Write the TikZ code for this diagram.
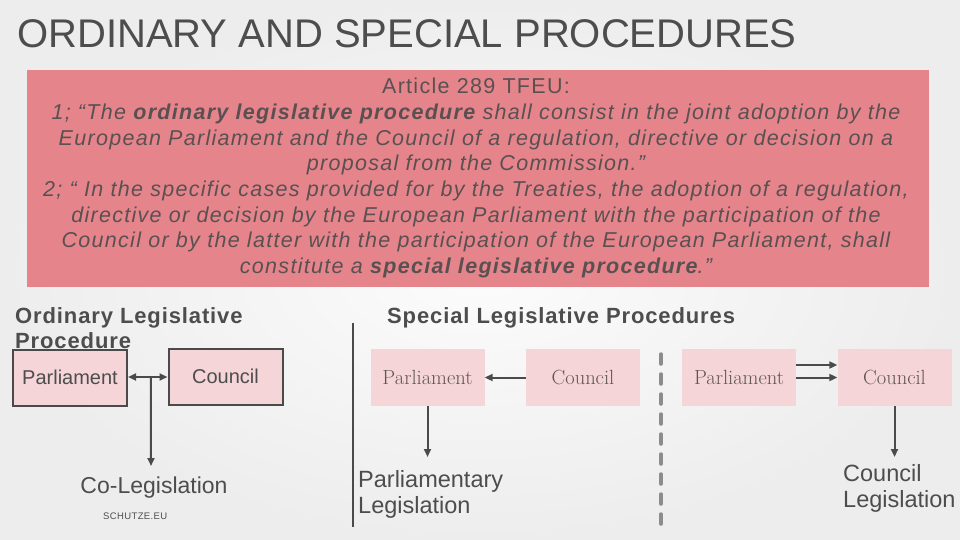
\documentclass[tikz,border=0pt]{standalone}
\usepackage{fontspec}
\usetikzlibrary{arrows.meta,calc}
\newfontfamily\arial{Liberation Sans}
\newfontfamily\arialsp[LetterSpace=4]{Liberation Sans}
\newfontfamily\arialq[LetterSpace=6]{Liberation Sans}
\definecolor{bgin}{HTML}{FCFCFC}
\definecolor{bgout}{HTML}{EDEDED}
\definecolor{titlec}{HTML}{4D4D4D}
\definecolor{pinkbox}{HTML}{E5858B}
\definecolor{pinktxt}{HTML}{5A5052}
\definecolor{lightpink}{HTML}{F5D5D7}
\definecolor{linec}{HTML}{4A4A4A}
\definecolor{dashc}{HTML}{8C8C8C}
\definecolor{sertxt}{HTML}{5F5557}
\tikzset{
  obox/.style={draw=linec, line width=2pt, fill=lightpink, inner sep=0pt,
    minimum width=114pt, minimum height=56pt, text=titlec,
    font=\arial\fontsize{20}{24}\selectfont},
  sbox/.style={fill=lightpink, inner sep=0pt,
    minimum width=114pt, minimum height=57pt, text=sertxt,
    font=\fontsize{20.5}{24}\selectfont},
  head/.style={anchor=base west, inner sep=0pt, text=titlec,
    font=\arialsp\bfseries\fontsize{22}{25}\selectfont},
  lbl/.style={anchor=base west, inner sep=0pt, text=titlec, align=left,
    font=\arial\fontsize{23.5}{26}\selectfont},
  arr/.style={draw=linec, line width=2pt, -{Triangle[length=8pt,width=7pt]}},
  darr/.style={draw=linec, line width=2pt, {Triangle[length=8pt,width=7pt]}-{Triangle[length=8pt,width=7pt]}},
}
\begin{document}
\begin{tikzpicture}[x=1pt,y=-1pt]
\useasboundingbox (0,0) rectangle (960,540);
\shade[inner color=bgin, outer color=bgout] (0,0) rectangle (960,540);

% title
\node[anchor=base west, inner sep=0pt, text=titlec, font=\arial\fontsize{40}{44}\selectfont]
  (title) at (17,48) {ORDINARY AND SPECIAL PROCEDURES};

% quotation box
\node[fill=pinkbox, minimum width=902pt, minimum height=217pt, inner sep=0pt] (qbox) at (478,178.5) {};
\node[align=center, inner sep=0pt, text=pinktxt, font=\arialq\fontsize{21.5}{25.7}\selectfont]
  (qtext) at (476,178) {Article 289 TFEU:\\
  \itshape 1; “The \textbf{ordinary legislative procedure} shall consist in the joint adoption by the\\
  \itshape European Parliament and the Council of a regulation, directive or decision on a\\
  \itshape proposal from the Commission.”\\
  \itshape 2; “ In the specific cases provided for by the Treaties, the adoption of a regulation,\\
  \itshape directive or decision by the European Parliament with the participation of the\\
  \itshape Council or by the latter with the participation of the European Parliament, shall\\
  \itshape constitute a \textbf{special legislative procedure}.”};

% ordinary procedure
\node[head, align=left] (ohead) at (15,348) {Ordinary Legislative\\Procedure};
\node[obox] (op) at (70,377.5) {Parliament};
\node[obox] (oc) at (225.5,376.5) {Council};
\draw[darr] (op.east |- 0,377) -- (oc.west |- 0,377);
\coordinate (omid) at ($(op.east |- 0,377)!0.58!(oc.west |- 0,377)$);
\coordinate (otip) at (151,466);
\draw[arr] (omid) -- (otip);
\node[anchor=base, inner sep=0pt, text=titlec, font=\arial\fontsize{23}{26}\selectfont]
  (colg) at (154,493) {Co-Legislation};
\node[anchor=base west, inner sep=0pt, text=titlec, font=\arialsp\fontsize{9.5}{11}\selectfont]
  (sch) at (103,519) {SCHUTZE.EU};

% separator
\coordinate (sepA) at (353,323);
\coordinate (sepB) at (353,527);
\draw[draw=linec, line width=1.3pt] (sepA) -- (sepB);

% special procedures
\node[head] (shead) at (387,323) {Special Legislative Procedures};
\node[sbox] (sp1) at (427.5,377.5) {Parliament};
\node[sbox] (sc1) at (583,377.5) {Council};
\draw[arr] (sc1.west) -- (sp1.east);
\coordinate (stip1) at (427.5,457);
\draw[arr] (sp1.south) -- (stip1);
\node[lbl] (plg) at (358,513) {Parliamentary\\Legislation};

\coordinate (dashA) at (661,354);
\coordinate (dashB) at (661,527);
\draw[draw=dashc, line width=3.5pt, dash pattern=on 10pt off 10pt, line cap=round] (dashA) -- (dashB);

\node[sbox] (sp2) at (739,377.5) {Parliament};
\node[sbox] (sc2) at (894.5,377.5) {Council};
\draw[arr] ([yshift=12.5pt]sp2.east) -- ([yshift=12.5pt]sc2.west);
\draw[arr] (sp2.east) -- (sc2.west);
\coordinate (stip2) at (894.5,457);
\draw[arr] (sc2.south) -- (stip2);
\node[lbl] (clg) at (843,507) {Council\\Legislation};
\end{tikzpicture}
\end{document}
